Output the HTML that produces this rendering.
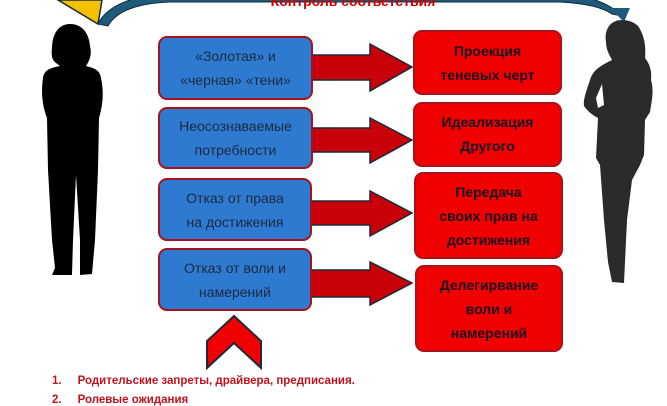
<!DOCTYPE html>
<html><head><meta charset="utf-8"><style>
body{margin:0;width:667px;height:400px;overflow:hidden;background:#fff;position:relative;font-family:"Liberation Sans","DejaVu Sans",sans-serif}
.b{position:absolute;box-sizing:border-box;border:2px solid #a8121c;border-radius:9px;display:flex;align-items:center;justify-content:center;text-align:center;line-height:24px;color:#1e2a40}
.bl{background:#2d7ad0;font-size:14px}
.rd{background:#f00000;font-weight:bold;font-size:14px;color:#1a1020}
svg{position:absolute;left:0;top:0}
</style></head><body>
<svg width="667" height="400">
<polygon points="58,0 102,0 98,24" fill="#f5c000" stroke="#1a2b3a" stroke-width="1.5"/>
<path d="M98,24 Q110,-2 170,-8 L560,-8 Q605,-2 622,16 L612,14 Q598,4 560,2 L170,2 Q120,4 108,26 Z" fill="#1f5a7a" stroke="#0f2b3a" stroke-width="1"/>
<polygon points="610,8 630,8 624,22" fill="#1f5a7a"/>
<path d="M70,24 C58,24 52,35 52,48 C51,55 52,60 56,63 L60,66 C50,68 44,70 43,78 C41,92 42,105 47,118 L48,170 L52,240 L55,268 L52,275 L72,275 L73,240 L76,175 L80,240 L80,275 L92,274 L95,240 L98,170 L99,118 C103,105 104,92 101,78 C100,70 94,68 86,66 C90,60 92,54 90,46 C89,33 82,24 70,24 Z" fill="#000"/>
<path d="M622,20 C610,20 604,30 606,42 C606,50 610,56 612,60 C600,66 593,70 590,80 C586,92 583,100 584,106 C588,112 594,116 598,118 L596,158 L600,165 L604,220 L608,262 L612,282 L624,283 L625,262 L627,220 L632,180 L640,165 L644,155 L645,120 L650,112 C652,100 654,90 651,80 C652,72 650,64 645,58 C646,48 645,36 638,26 C634,22 628,20 622,20 Z M598,108 L596,98 L602,84 L604,105 Z" fill="#2a2a2a"/>
<g fill="#c8000a" stroke="#1c2a3a" stroke-width="1.5">
<polygon points="305,55 370,55 370,44 412,67 370,91 370,80 305,80"/>
<polygon points="305,128 370,128 370,118 412,140 370,163 370,152 305,152"/>
<polygon points="305,201 370,201 370,191 412,213 370,236 370,225 305,225"/>
<polygon points="310,270 370,270 370,262 412,283 370,305 370,297 310,297"/>
</g>
<polygon points="234,316 261,341 261,368 234,343 207,368 207,341" fill="#f00000" stroke="#1c2a3a" stroke-width="2"/>
</svg>
<div style="position:absolute;left:200px;top:-7px;width:306px;text-align:center;color:#d00000;font-weight:bold;font-size:14px">Контроль соответствия</div>
<div class="b bl" style="left:158px;top:36px;width:155px;height:64px">«Золотая» и<br>«черная» «тени»</div>
<div class="b bl" style="left:158px;top:107px;width:155px;height:62px">Неосознаваемые<br>потребности</div>
<div class="b bl" style="left:158px;top:178px;width:154px;height:63px">Отказ от права<br>на достижения</div>
<div class="b bl" style="left:158px;top:248px;width:154px;height:63px;align-items:flex-start;padding-top:6px">Отказ от воли и<br>намерений</div>
<div class="b rd" style="left:413px;top:30px;width:149px;height:65px">Проекция<br>теневых черт</div>
<div class="b rd" style="left:413px;top:102px;width:149px;height:65px;align-items:flex-start;padding-top:6px">Идеализация<br>Другого</div>
<div class="b rd" style="left:414px;top:172px;width:149px;height:87px">Передача<br>своих прав на<br>достижения</div>
<div class="b rd" style="left:415px;top:265px;width:148px;height:87px">Делегирвание<br>воли и<br>намерений</div>
<div style="position:absolute;left:52px;top:375px;color:#c0121c;font-weight:bold;font-size:11.5px">1.&nbsp;&nbsp;&nbsp;&nbsp;&nbsp;Родительские запреты, драйвера, предписания.</div>
<div style="position:absolute;left:52px;top:394px;color:#c0121c;font-weight:bold;font-size:11.5px">2.&nbsp;&nbsp;&nbsp;&nbsp;&nbsp;Ролевые ожидания</div>
</body></html>
